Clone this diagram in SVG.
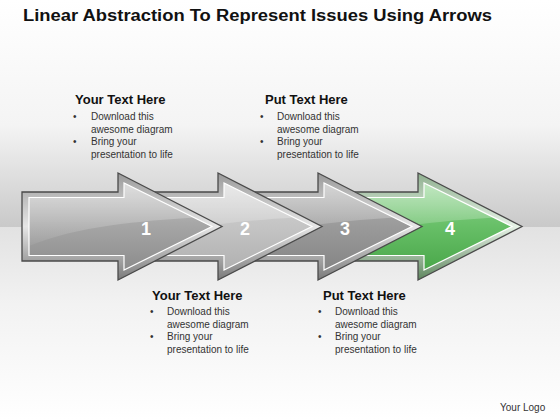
<svg xmlns="http://www.w3.org/2000/svg" width="560" height="420" viewBox="0 0 560 420">
<defs>
<linearGradient id="bgTop" x1="0" y1="0" x2="0" y2="1">
<stop offset="0" stop-color="#ffffff"/>
<stop offset="0.55" stop-color="#f4f4f4"/>
<stop offset="1" stop-color="#c9c9c9"/>
</linearGradient>
<linearGradient id="bgBot" x1="0" y1="0" x2="0" y2="1">
<stop offset="0" stop-color="#e2e2e2"/>
<stop offset="0.4" stop-color="#f2f2f2"/>
<stop offset="1" stop-color="#ffffff"/>
</linearGradient>
<linearGradient id="g1" x1="0" y1="0" x2="0" y2="1">
<stop offset="0" stop-color="#c4c4c4"/>
<stop offset="0.5" stop-color="#a5a5a5"/>
<stop offset="1" stop-color="#8c8c8c"/>
</linearGradient>
<linearGradient id="g2" x1="0" y1="0" x2="0" y2="1">
<stop offset="0" stop-color="#d8d8d8"/>
<stop offset="0.5" stop-color="#c4c4c4"/>
<stop offset="1" stop-color="#b0b0b0"/>
</linearGradient>
<linearGradient id="g3" x1="0" y1="0" x2="0" y2="1">
<stop offset="0" stop-color="#b4b4b4"/>
<stop offset="0.5" stop-color="#9a9a9a"/>
<stop offset="1" stop-color="#858585"/>
</linearGradient>
<linearGradient id="g4" x1="0" y1="0" x2="0" y2="1">
<stop offset="0" stop-color="#8fd48f"/>
<stop offset="0.5" stop-color="#67bf67"/>
<stop offset="1" stop-color="#4aa74a"/>
</linearGradient>
<linearGradient id="bevelGray" x1="0" y1="0" x2="0" y2="1">
<stop offset="0" stop-color="#9a9a9a"/>
<stop offset="0.5" stop-color="#e6e6e6"/>
<stop offset="1" stop-color="#7a7a7a"/>
</linearGradient>
<linearGradient id="bevelGreen" x1="0" y1="0" x2="0" y2="1">
<stop offset="0" stop-color="#8fb08f"/>
<stop offset="0.5" stop-color="#e6f2e6"/>
<stop offset="1" stop-color="#5e865e"/>
</linearGradient>
<linearGradient id="gloss" x1="0" y1="0" x2="0" y2="1">
<stop offset="0" stop-color="#ffffff" stop-opacity="0.45"/>
<stop offset="1" stop-color="#ffffff" stop-opacity="0.05"/>
</linearGradient>
<path id="outer" d="M0,192 H96 V173 L200,226.5 L96,280 V261 H0 Z"/>
<path id="inner" d="M7,197.5 H102 V183 L190,226.5 L102,270 V255.5 H7 Z"/>
<path id="shine" d="M7,197.5 H102 V183 L172,217.5 C120,221 55,226 7,246 Z"/>
</defs>
<style>
.bevel{stroke:#4a4a4a;stroke-width:1.3}
.face{stroke:#ffffff;stroke-width:1.2}
.num{font-family:"Liberation Sans",Arial,sans-serif;font-weight:bold;font-size:18px;fill:#ffffff;text-anchor:middle}
.head{font-family:"Liberation Sans",Arial,sans-serif;font-weight:bold;font-size:13px;fill:#111111}
.body{font-family:"Liberation Sans",Arial,sans-serif;font-size:10px;fill:#333333}
</style>
<g id="background">
<rect x="0" y="0" width="560" height="227" fill="url(#bgTop)"/>
<rect x="0" y="227" width="560" height="193" fill="url(#bgBot)"/>
</g>
<text x="23" y="21" font-family="Liberation Sans, Arial, sans-serif" font-weight="bold" font-size="16" fill="#111111" textLength="469" lengthAdjust="spacingAndGlyphs">Linear Abstraction To Represent Issues Using Arrows</text>
<g id="arrow-4" transform="translate(322,0)">
<use href="#outer" fill="url(#bevelGreen)" class="bevel" stroke="#3d5e3d"/>
<use href="#inner" fill="url(#g4)" class="face"/>
<use href="#shine" fill="url(#gloss)"/>
<text x="128" y="235" class="num">4</text>
</g>
<g id="arrow-3" transform="translate(222,0)">
<use href="#outer" fill="url(#bevelGray)" class="bevel"/>
<use href="#inner" fill="url(#g3)" class="face"/>
<use href="#shine" fill="url(#gloss)"/>
<text x="123" y="235" class="num">3</text>
</g>
<g id="arrow-2" transform="translate(122,0)">
<use href="#outer" fill="url(#bevelGray)" class="bevel"/>
<use href="#inner" fill="url(#g2)" class="face"/>
<use href="#shine" fill="url(#gloss)"/>
<text x="123" y="235" class="num">2</text>
</g>
<g id="arrow-1" transform="translate(22,0)">
<use href="#outer" fill="url(#bevelGray)" class="bevel"/>
<use href="#inner" fill="url(#g1)" class="face"/>
<use href="#shine" fill="url(#gloss)"/>
<text x="124" y="235" class="num">1</text>
</g>
<g id="text-1">
<text x="75" y="104" class="head">Your Text Here</text>
<text x="73" y="120" class="body">•</text>
<text x="91" y="120" class="body">Download this</text>
<text x="91" y="132.6" class="body">awesome diagram</text>
<text x="73" y="145.2" class="body">•</text>
<text x="91" y="145.2" class="body">Bring your</text>
<text x="91" y="157.8" class="body">presentation to life</text>
</g>
<g id="text-2">
<text x="265" y="104" class="head">Put Text Here</text>
<text x="260" y="120" class="body">•</text>
<text x="277" y="120" class="body">Download this</text>
<text x="277" y="132.6" class="body">awesome diagram</text>
<text x="260" y="145.2" class="body">•</text>
<text x="277" y="145.2" class="body">Bring your</text>
<text x="277" y="157.8" class="body">presentation to life</text>
</g>
<g id="text-3">
<text x="152" y="299.5" class="head">Your Text Here</text>
<text x="150" y="315" class="body">•</text>
<text x="167" y="315" class="body">Download this</text>
<text x="167" y="327.7" class="body">awesome diagram</text>
<text x="150" y="340.3" class="body">•</text>
<text x="167" y="340.3" class="body">Bring your</text>
<text x="167" y="352.9" class="body">presentation to life</text>
</g>
<g id="text-4">
<text x="323" y="299.5" class="head">Put Text Here</text>
<text x="318" y="315" class="body">•</text>
<text x="335" y="315" class="body">Download this</text>
<text x="335" y="327.7" class="body">awesome diagram</text>
<text x="318" y="340.3" class="body">•</text>
<text x="335" y="340.3" class="body">Bring your</text>
<text x="335" y="352.9" class="body">presentation to life</text>
</g>
<text x="500" y="411" font-family="Liberation Sans, Arial, sans-serif" font-size="10" fill="#333333">Your Logo</text>
</svg>
